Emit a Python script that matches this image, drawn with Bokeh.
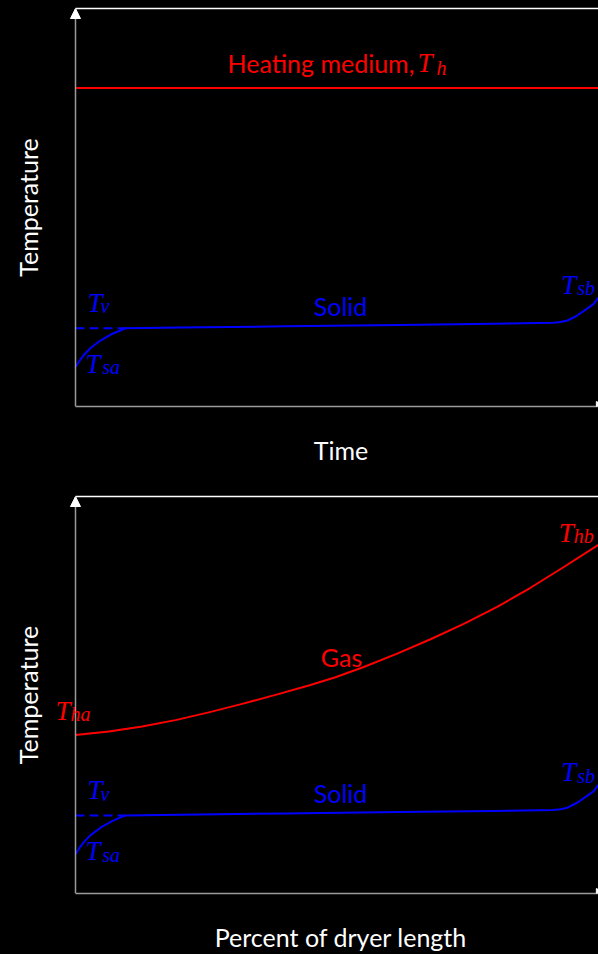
from bokeh.plotting import figure
from bokeh.layouts import column
from bokeh.models import (Range1d, FixedTicker, Span, Arrow, NormalHead, Label, LinearAxis)
from bokeh.embed import file_html
from bokeh.resources import INLINE

# ---------------- data (arbitrary temperature units, x in % of length/time) ----
solid_x = [0, 0.76, 1.59, 2.87, 4.78, 7.07, 9.56, 20, 40, 62, 80, 91.4, 92.73,
           94.07, 95.93, 97.82, 99.1, 100]
solid_y = [9.87, 11.48, 12.94, 14.70, 16.58, 18.29, 19.67, 19.85, 20.15, 20.5, 20.8,
           21.03, 21.21, 21.61, 22.86, 24.6, 25.8, 27.46]

tv_x = [0, 9.56]
tv_y = [19.67, 19.67]

heat_x = [0, 100]
heat_y = [80, 80]

gas_x = [0, 6.37, 12.75, 19.12, 25.49, 31.87, 38.24, 44.61, 49.71, 55.12,
         61.51, 67.88, 74.24, 80.63, 87.0, 93.37, 99.75, 100]
gas_y = [39.95, 40.78, 42.04, 43.67, 45.63, 47.76, 50.03, 52.39, 54.47, 57.06,
         60.43, 64.05, 67.91, 72.19, 77.01, 82.24, 87.64, 87.79]

RED = "#ff0000"
BLUE = "#0000ff"

# label texts / anchor positions (data units)
top_sans = dict(x=[29.06, 50.67], y=[86.37, 25.31], text=["Heating medium,", "Solid"],
                color=[RED, BLUE], align=["left", "center"])
top_T = dict(x=[65.39, 2.29, 1.91, 92.87], y=[86.37, 25.99, 10.66, 30.59],
             color=[RED, BLUE, BLUE, BLUE])
top_sub = dict(x=[69.02, 4.78, 5.11, 95.93], y=[85.11, 25.14, 9.81, 29.66],
               text=["h", "v", "sa", "sb"], color=[RED, BLUE, BLUE, BLUE])

bot_sans = dict(x=[50.86, 50.67], y=[59.48, 25.31], text=["Gas", "Solid"],
                color=[RED, BLUE], align=["center", "center"])
bot_T = dict(x=[-3.82, 92.41, 2.29, 1.91, 92.87], y=[45.99, 90.82, 25.99, 10.66, 30.59],
             color=[RED, RED, BLUE, BLUE, BLUE])
bot_sub = dict(x=[-0.96, 95.28, 4.78, 5.11, 95.93], y=[45.16, 89.96, 25.14, 9.81, 29.66],
               text=["ha", "hb", "v", "sa", "sb"], color=[RED, RED, BLUE, BLUE, BLUE])

# the original drawing is wider than the window: its right part is cut off
X_START = -4.78
X_END = 106.31
X_ARROW = 101.5
SANS = "Lato"
SERIF = "Liberation Serif"
AXIS_GREY = "#9a9a9a"


def bare_axis(ax):
    ax.ticker = FixedTicker(ticks=[])
    ax.major_label_text_font_size = "0px"
    ax.major_tick_line_color = None
    ax.minor_tick_line_color = None
    ax.major_tick_out = 0
    ax.major_tick_in = 0
    ax.minor_tick_out = 0
    ax.minor_tick_in = 0
    ax.axis_line_color = AXIS_GREY
    ax.axis_line_width = 1.5
    ax.axis_label_text_font = SANS
    ax.axis_label_text_font_size = "25px"
    ax.axis_label_text_font_style = "normal"
    ax.axis_label_text_color = "white"


def make_fig(height, border_bottom, xlabel):
    p = figure(width=631, height=height, x_range=Range1d(X_START, X_END),
               y_range=Range1d(0, 100),
               output_backend="svg", toolbar_location=None,
               min_border_left=50, min_border_right=0, min_border_top=8,
               min_border_bottom=border_bottom,
               background_fill_color="black", border_fill_color="black",
               outline_line_color=None)
    p.grid.visible = False
    bottom_axis = p.below[0]
    left_axis = p.left[0]
    bare_axis(bottom_axis)
    bare_axis(left_axis)
    bottom_axis.bounds = (0, X_ARROW)
    bottom_axis.axis_label_standoff = 28
    bottom_axis.axis_label = xlabel
    left_axis.axis_line_color = None
    left_axis.axis_label_standoff = 8
    left_axis.axis_label = "Temperature"

    top_axis = LinearAxis()
    bare_axis(top_axis)
    top_axis.axis_line_color = "white"
    top_axis.bounds = (0, X_END)
    p.add_layout(top_axis, "above")

    # the temperature axis line itself sits at x = 0
    p.add_layout(Span(location=0, dimension="height", line_color=AXIS_GREY, line_width=1.5))
    p.add_layout(Arrow(end=NormalHead(size=10, fill_color="white", line_color="white", line_width=1),
                       x_start=0, y_start=96, x_end=0, y_end=100, line_alpha=0))
    p.add_layout(Arrow(end=NormalHead(size=10, fill_color="white", line_color="white", line_width=1),
                       x_start=X_ARROW - 4, y_start=0, x_end=X_ARROW, y_end=0, line_alpha=0))
    return p


def add_labels(p, sans, tees, subs):
    for x, y, t, c, a in zip(sans["x"], sans["y"], sans["text"], sans["color"], sans["align"]):
        p.add_layout(Label(x=x, y=y, text=t, text_color=c, text_font=SANS,
                           text_font_size="25px", text_align=a, text_baseline="alphabetic"))
    for x, y, c in zip(tees["x"], tees["y"], tees["color"]):
        p.add_layout(Label(x=x, y=y, text="T", text_color=c, text_font=SERIF,
                           text_font_style="italic", text_font_size="27px",
                           text_align="left", text_baseline="alphabetic"))
    for x, y, t, c in zip(subs["x"], subs["y"], subs["text"], subs["color"]):
        p.add_layout(Label(x=x, y=y, text=t, text_color=c, text_font=SERIF,
                           text_font_style="italic", text_font_size="20px",
                           text_align="left", text_baseline="alphabetic"))


# ---------------- top panel: batch drying vs time -------------------
p1 = make_fig(488, 82, "Time")
p1.line(heat_x, heat_y, line_color=RED, line_width=2)
p1.line(solid_x, solid_y, line_color=BLUE, line_width=2, line_join="round")
p1.line(tv_x, tv_y, line_color=BLUE, line_width=2, line_dash="9 5")
add_labels(p1, top_sans, top_T, top_sub)

# ---------------- bottom panel: continuous dryer ---------------------
p2 = make_fig(466, 60, "Percent of dryer length")
p2.line(gas_x, gas_y, line_color=RED, line_width=2, line_join="round")
p2.line(solid_x, solid_y, line_color=BLUE, line_width=2, line_join="round")
p2.line(tv_x, tv_y, line_color=BLUE, line_width=2, line_dash="9 5")
add_labels(p2, bot_sans, bot_T, bot_sub)

layout = column(p1, p2, spacing=0)

html = file_html(layout, INLINE, title="Dryer temperature profiles")
html = html.replace("</head>",
                    "<style>html,body{margin:0 !important;padding:0;background:#000;"
                    "overflow:hidden}</style></head>", 1)
open("out.html", "w").write(html)
